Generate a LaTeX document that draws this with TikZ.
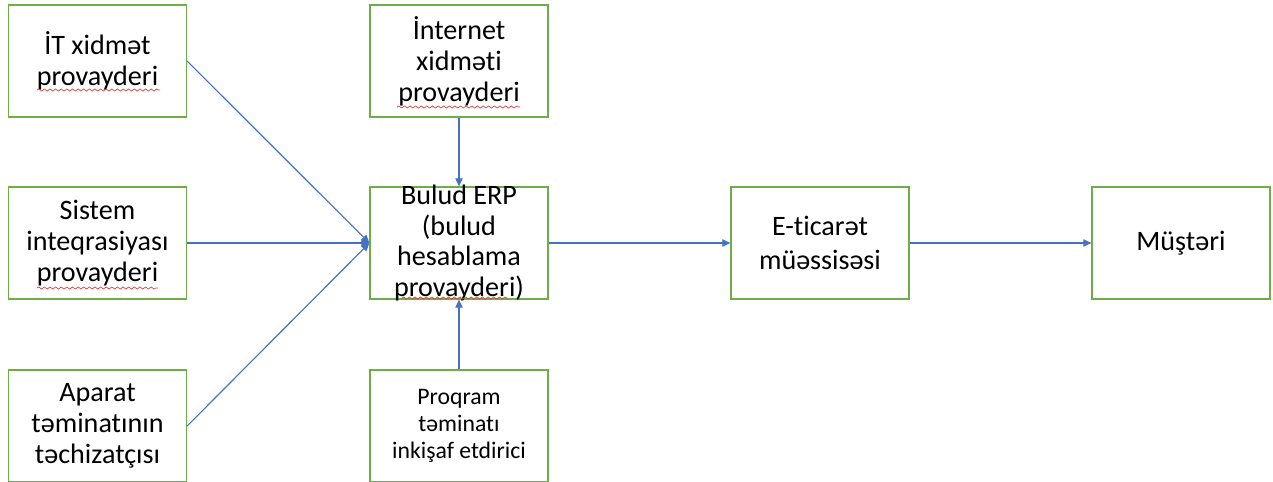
\documentclass[tikz,border=0pt]{standalone}
\usepackage{fontspec}
\setmainfont{Carlito}[Ligatures=NoCommon]
\usetikzlibrary{arrows.meta,decorations.pathmorphing}
\definecolor{boxGreen}{HTML}{70AD47}
\definecolor{lineBlue}{HTML}{4472C4}
\definecolor{spellRed}{HTML}{E0403C}

\begin{document}
\begin{tikzpicture}[x=0.02cm, y=-0.02cm, >={Triangle[length=4.6pt,width=4.2pt]},
  box/.style={draw=boxGreen, line width=0.75pt, fill=white, minimum width=3.56cm,
              minimum height=2.24cm, inner sep=0pt, align=center,
              font=\fontsize{16}{17.6}\selectfont},
  flow/.style={->, draw=lineBlue, fill=lineBlue, line width=0.65pt},
  squiggle/.style={spellRed, line width=0.4pt, decorate,
                   decoration={snake, segment length=3.2pt, amplitude=0.6pt}}]
\useasboundingbox (0,0) rectangle (1273,482);
\clip (0,0) rectangle (1273,482);
% ---------- suppliers (left column) ----------
\node[box] (it)  at (97.5,61)  {İT xidmət\\provayderi};
\node[box] (sys) at (97.5,243) {Sistem\\inteqrasiyası\\provayderi};
\node[box] (hw)  at (97.5,426) {Aparat\\təminatının\\təchizatçısı};
% ---------- middle column ----------
\node[box] (isp) at (459,61)  {İnternet\\xidməti\\provayderi};
\node[box, inner ysep=-3.5pt] (erp) at (459,243)
      {Bulud ERP\\(bulud\\hesablama\\provayderi)};
\node[box, font=\fontsize{13.5}{15.3}\selectfont] (dev) at (459,426)
      {Proqram\\təminatı\\inkişaf etdirici};
% ---------- right part ----------
\node[box, font=\fontsize{16}{19}\selectfont] (shop) at (820,243) {E-ticarət\\müəssisəsi};
\node[box] (client) at (1181,243) {Müştəri};
% ---------- connectors ----------
\foreach \s in {it,sys,hw}
  \draw[flow] (\s.east) -- (erp.west);
\draw[flow] (isp) -- (erp);
\draw[flow] (dev) -- (erp);
\draw[flow] (erp) -- (shop);
\draw[flow] (shop) -- (client);
% ---------- spell-check marks ----------
\foreach \xa/\xb/\y in {37/160/90, 37/158/288, 397/520/107, 402/507/298}
  \draw[squiggle] (\xa,\y) -- (\xb,\y);
\end{tikzpicture}
\end{document}
